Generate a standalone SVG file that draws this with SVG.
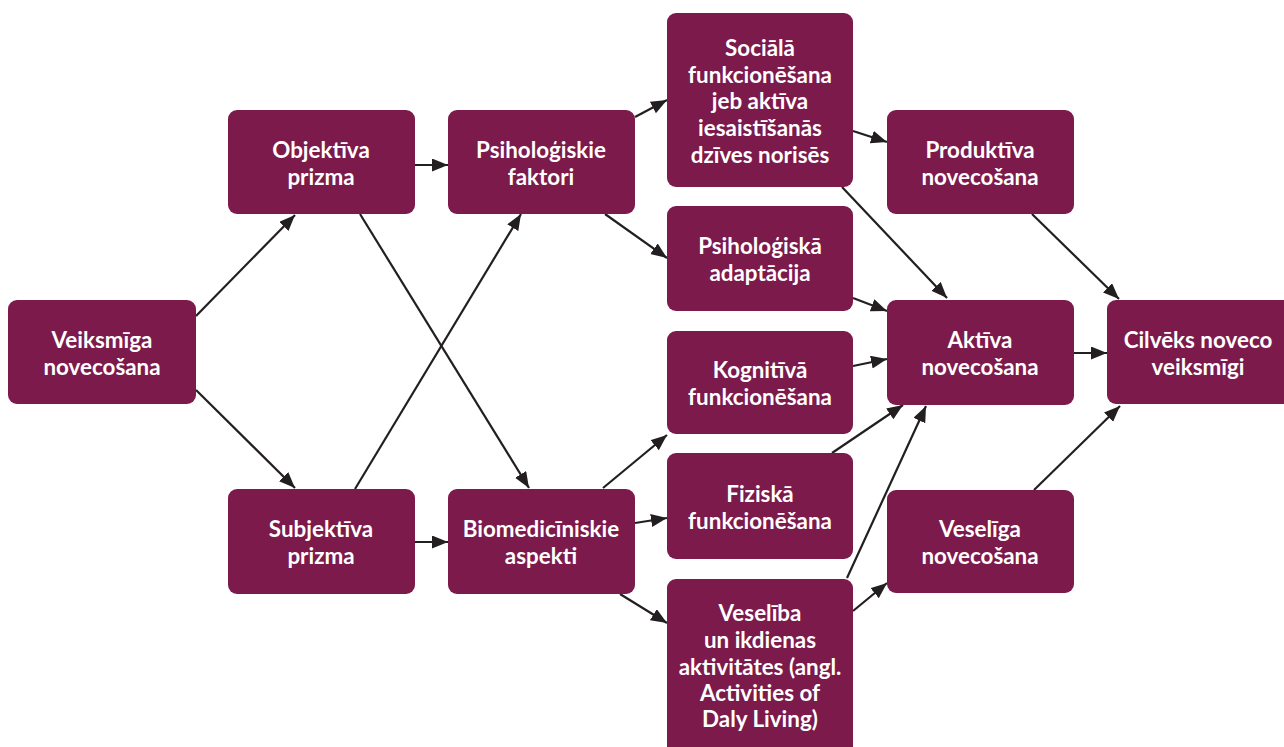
<svg xmlns="http://www.w3.org/2000/svg" width="1284" height="747" viewBox="0 0 1284 747">
<style>
.box{fill:#7b1a4b}
.t{fill:#ffffff;font-family:Lato,"Liberation Sans",sans-serif;font-weight:bold;font-size:22.4px;text-anchor:middle}
.c line{stroke:#231f20;stroke-width:2.2;marker-end:url(#ah)}
</style>
<defs>
<marker id="ah" markerUnits="userSpaceOnUse" markerWidth="18" markerHeight="14" refX="16" refY="6.5" orient="auto">
<path d="M0,0 L16,6.5 L0,13 Z" fill="#231f20"/>
</marker>
</defs>
<rect width="1284" height="747" fill="#ffffff"/>
<g class="c" id="connectors">
<line x1="196" y1="316" x2="295" y2="215"/>
<line x1="196" y1="390" x2="295" y2="488"/>
<line x1="415" y1="165" x2="448" y2="165"/>
<line x1="360" y1="214" x2="529" y2="488"/>
<line x1="355" y1="489" x2="521" y2="214"/>
<line x1="415" y1="542" x2="448" y2="542"/>
<line x1="635" y1="117" x2="667" y2="100"/>
<line x1="605" y1="214" x2="667" y2="258"/>
<line x1="853" y1="131" x2="887" y2="142"/>
<line x1="842" y1="187" x2="947" y2="298"/>
<line x1="853" y1="298" x2="887" y2="311"/>
<line x1="1032" y1="214" x2="1119" y2="299"/>
<line x1="1074" y1="353" x2="1107" y2="353"/>
<line x1="1034" y1="490" x2="1120" y2="406"/>
<line x1="853" y1="366" x2="887" y2="359"/>
<line x1="832" y1="453" x2="903" y2="405"/>
<line x1="847" y1="578" x2="926" y2="406"/>
<line x1="853" y1="611" x2="887" y2="583"/>
<line x1="603" y1="488" x2="667" y2="435"/>
<line x1="635" y1="523" x2="667" y2="518"/>
<line x1="620" y1="594" x2="667" y2="623"/>
</g>
<g id="n-veiksmiga"><rect class="box" x="8" y="300" width="188" height="104" rx="9"/><text class="t"><tspan x="102" y="348">Veiksmīga</tspan><tspan x="102" y="375">novecošana</tspan></text></g>
<g id="n-objektiva"><rect class="box" x="228" y="110" width="187" height="104" rx="9"/><text class="t"><tspan x="321" y="158">Objektīva</tspan><tspan x="321" y="185">prizma</tspan></text></g>
<g id="n-subjektiva"><rect class="box" x="228" y="489" width="187" height="105" rx="9"/><text class="t"><tspan x="321" y="537">Subjektīva</tspan><tspan x="321" y="564">prizma</tspan></text></g>
<g id="n-psihfaktori"><rect class="box" x="448" y="110" width="187" height="104" rx="9"/><text class="t"><tspan x="541" y="158">Psiholoģiskie</tspan><tspan x="541" y="185">faktori</tspan></text></g>
<g id="n-biomed"><rect class="box" x="448" y="489" width="187" height="105" rx="9"/><text class="t"><tspan x="541" y="537">Biomedicīniskie</tspan><tspan x="541" y="564">aspekti</tspan></text></g>
<g id="n-sociala"><rect class="box" x="667" y="13" width="186" height="174" rx="9"/><text class="t"><tspan x="760" y="56">Sociālā</tspan><tspan x="760" y="83">funkcionēšana</tspan><tspan x="760" y="109">jeb aktīva</tspan><tspan x="760" y="136">iesaistīšanās</tspan><tspan x="760" y="163">dzīves norisēs</tspan></text></g>
<g id="n-adaptacija"><rect class="box" x="667" y="206" width="186" height="105" rx="9"/><text class="t"><tspan x="760" y="254">Psiholoģiskā</tspan><tspan x="760" y="281">adaptācija</tspan></text></g>
<g id="n-kognitiva"><rect class="box" x="667" y="331" width="186" height="103" rx="9"/><text class="t"><tspan x="760" y="378">Kognitīvā</tspan><tspan x="760" y="405">funkcionēšana</tspan></text></g>
<g id="n-fiziska"><rect class="box" x="667" y="453" width="186" height="106" rx="9"/><text class="t"><tspan x="760" y="502">Fiziskā</tspan><tspan x="760" y="529">funkcionēšana</tspan></text></g>
<g id="n-veseliba"><rect class="box" x="667" y="579" width="186" height="190" rx="9"/><text class="t"><tspan x="760" y="621">Veselība</tspan><tspan x="760" y="648">un ikdienas</tspan><tspan x="760" y="675">aktivitātes (angl.</tspan><tspan x="760" y="701">Activities of</tspan><tspan x="760" y="727">Daly Living)</tspan></text></g>
<g id="n-produktiva"><rect class="box" x="887" y="110" width="187" height="104" rx="9"/><text class="t"><tspan x="980" y="158">Produktīva</tspan><tspan x="980" y="185">novecošana</tspan></text></g>
<g id="n-aktiva"><rect class="box" x="887" y="300" width="187" height="105" rx="9"/><text class="t"><tspan x="980" y="348">Aktīva</tspan><tspan x="980" y="375">novecošana</tspan></text></g>
<g id="n-veseliga"><rect class="box" x="887" y="490" width="187" height="103" rx="9"/><text class="t"><tspan x="980" y="537">Veselīga</tspan><tspan x="980" y="564">novecošana</tspan></text></g>
<g id="n-cilveks"><rect class="box" x="1107" y="300" width="190" height="104" rx="9"/><text class="t"><tspan x="1198" y="348">Cilvēks noveco</tspan><tspan x="1198" y="375">veiksmīgi</tspan></text></g>
</svg>
